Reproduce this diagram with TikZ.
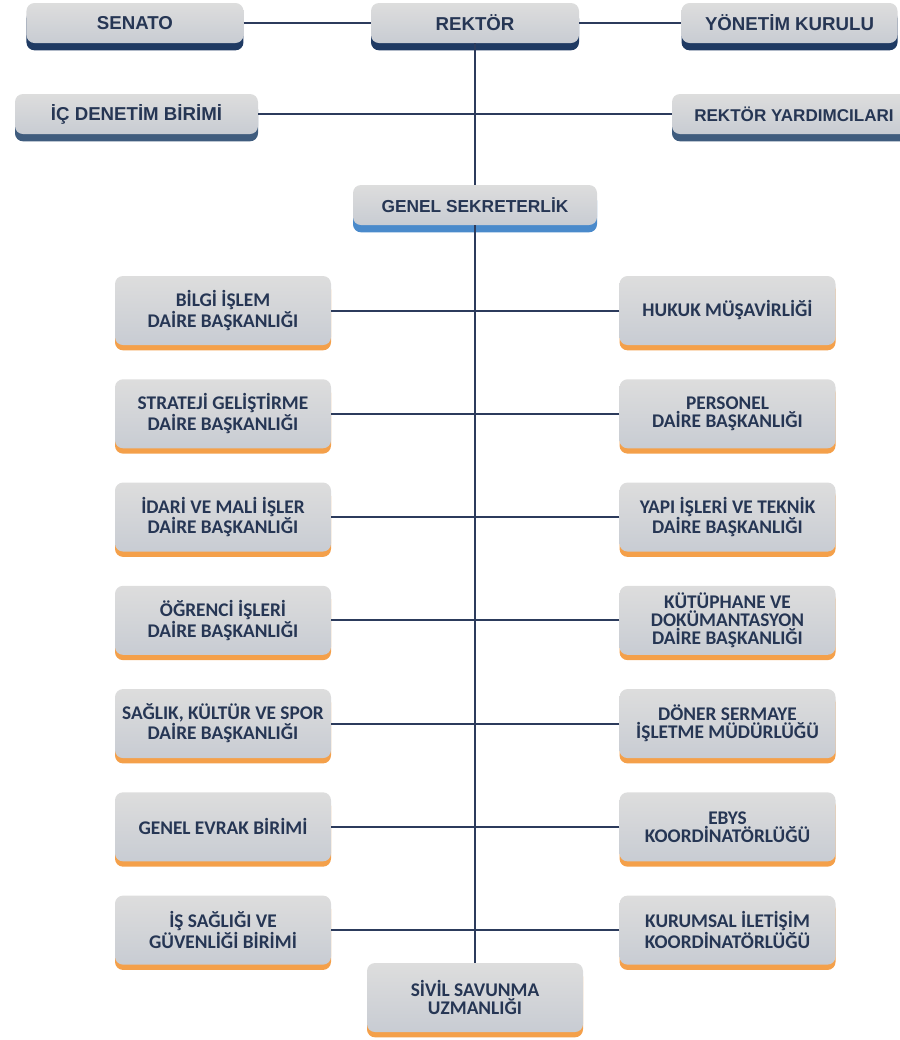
\documentclass[tikz,border=0pt]{standalone}
\usepackage{fontspec}
\setmainfont{Carlito}
\newfontfamily\arialfont{Liberation Sans}
\usetikzlibrary{positioning,shadows}
\definecolor{boxtop}{HTML}{DDDDDD}
\definecolor{boxbot}{HTML}{C8CCD3}
\definecolor{navyband}{HTML}{1F3A63}
\definecolor{steelband}{HTML}{3F5C7E}
\definecolor{blueband}{HTML}{4A8ACB}
\definecolor{orangeband}{HTML}{F4A04A}
\definecolor{labeltext}{HTML}{263654}
\definecolor{linkline}{HTML}{2C3B5C}

\begin{document}
\begin{tikzpicture}[%Organisation chart
  x=0.75pt, y=0.75pt,
  basebox/.style={rectangle, rounded corners=6pt, top color=boxtop, bottom color=boxbot, text=labeltext, align=center, inner sep=2pt},
  headbox/.style={basebox, minimum height=30pt, font=\arialfont\bfseries\fontsize{14}{16}\selectfont, general shadow={fill=#1, shadow yshift=-5.5pt}},
  unitbox/.style={basebox, minimum width=162pt, minimum height=51.75pt, font=\bfseries\fontsize{14.5}{13.4}\selectfont, general shadow={fill=orangeband, shadow yshift=-4pt}},
  link/.style={draw=linkline, line width=1.5pt}
]
\useasboundingbox (0,0) rectangle (900,-1040);

%Top nodes
\node[headbox=navyband, minimum width=156pt] (rektor) at (475,-23) {REKTÖR};
\node[headbox=navyband, minimum width=162.75pt, left=95.25pt of rektor] (senato) {SENATO};
\node[headbox=navyband, minimum width=162pt, right=76.5pt of rektor] (yonetim) {YÖNETİM KURULU};
\node[headbox=steelband, minimum width=182.25pt] (icdenetim) at (136.5,-114) {İÇ DENETİM BİRİMİ};
\node[headbox=steelband, minimum width=183pt, font=\arialfont\bfseries\fontsize{12.8}{15}\selectfont] (yardimci) at (794,-114) {REKTÖR YARDIMCILARI};
\node[headbox=blueband, minimum width=183pt, font=\arialfont\bfseries\fontsize{13}{15}\selectfont] (gensek) at (475,-205) {GENEL SEKRETERLİK};

%Left column
\node[unitbox] (bilgi) at (223,-310.5) {BİLGİ İŞLEM\\DAİRE BAŞKANLIĞI};
\node[unitbox, below=25.3pt of bilgi]    (strateji) {STRATEJİ GELİŞTİRME\\DAİRE BAŞKANLIĞI};
\node[unitbox, below=25.3pt of strateji] (idari) {İDARİ VE MALİ İŞLER\\DAİRE BAŞKANLIĞI};
\node[unitbox, below=25.3pt of idari]    (ogrenci) {ÖĞRENCİ İŞLERİ\\DAİRE BAŞKANLIĞI};
\node[unitbox, below=25.3pt of ogrenci]  (saglik) {SAĞLIK, KÜLTÜR VE SPOR\\DAİRE BAŞKANLIĞI};
\node[unitbox, below=25.3pt of saglik]   (evrak) {GENEL EVRAK BİRİMİ};
\node[unitbox, below=25.3pt of evrak]    (isg) {İŞ SAĞLIĞI VE\\GÜVENLİĞİ BİRİMİ};

%Right column
\node[unitbox, right=216pt of bilgi]     (hukuk) {HUKUK MÜŞAVİRLİĞİ};
\node[unitbox, below=25.3pt of hukuk]    (personel) {PERSONEL\\DAİRE BAŞKANLIĞI};
\node[unitbox, below=25.3pt of personel] (yapi) {YAPI İŞLERİ VE TEKNİK\\DAİRE BAŞKANLIĞI};
\node[unitbox, below=25.3pt of yapi]     (kutuphane) {KÜTÜPHANE VE\\DOKÜMANTASYON\\DAİRE BAŞKANLIĞI};
\node[unitbox, below=25.3pt of kutuphane] (doner) {DÖNER SERMAYE\\İŞLETME MÜDÜRLÜĞÜ};
\node[unitbox, below=25.3pt of doner]    (ebys) {EBYS\\KOORDİNATÖRLÜĞÜ};
\node[unitbox, below=25.3pt of ebys]     (kurumsal) {KURUMSAL İLETİŞİM\\KOORDİNATÖRLÜĞÜ};

\node[unitbox] (sivil) at (475,-997.5) {SİVİL SAVUNMA\\UZMANLIĞI};

%Lines
\draw[link] (senato) -- (rektor);
\draw[link] (rektor) -- (yonetim);
\draw[link] (icdenetim) -- (yardimci);
\draw[link] (rektor) -- (gensek);
\draw[link] (gensek) -- (sivil);

\draw[link] (bilgi.east) -- (bilgi.east -| gensek.south);
\draw[link] (strateji.east) -- (strateji.east -| gensek.south);
\draw[link] (idari.east) -- (idari.east -| gensek.south);
\draw[link] (ogrenci.east) -- (ogrenci.east -| gensek.south);
\draw[link] (saglik.east) -- (saglik.east -| gensek.south);
\draw[link] (evrak.east) -- (evrak.east -| gensek.south);
\draw[link] (isg.east) -- (isg.east -| gensek.south);

\draw[link] (hukuk.west) -- (hukuk.west -| gensek.south);
\draw[link] (personel.west) -- (personel.west -| gensek.south);
\draw[link] (yapi.west) -- (yapi.west -| gensek.south);
\draw[link] (kutuphane.west) -- (kutuphane.west -| gensek.south);
\draw[link] (doner.west) -- (doner.west -| gensek.south);
\draw[link] (ebys.west) -- (ebys.west -| gensek.south);
\draw[link] (kurumsal.west) -- (kurumsal.west -| gensek.south);
\end{tikzpicture}
\end{document}
